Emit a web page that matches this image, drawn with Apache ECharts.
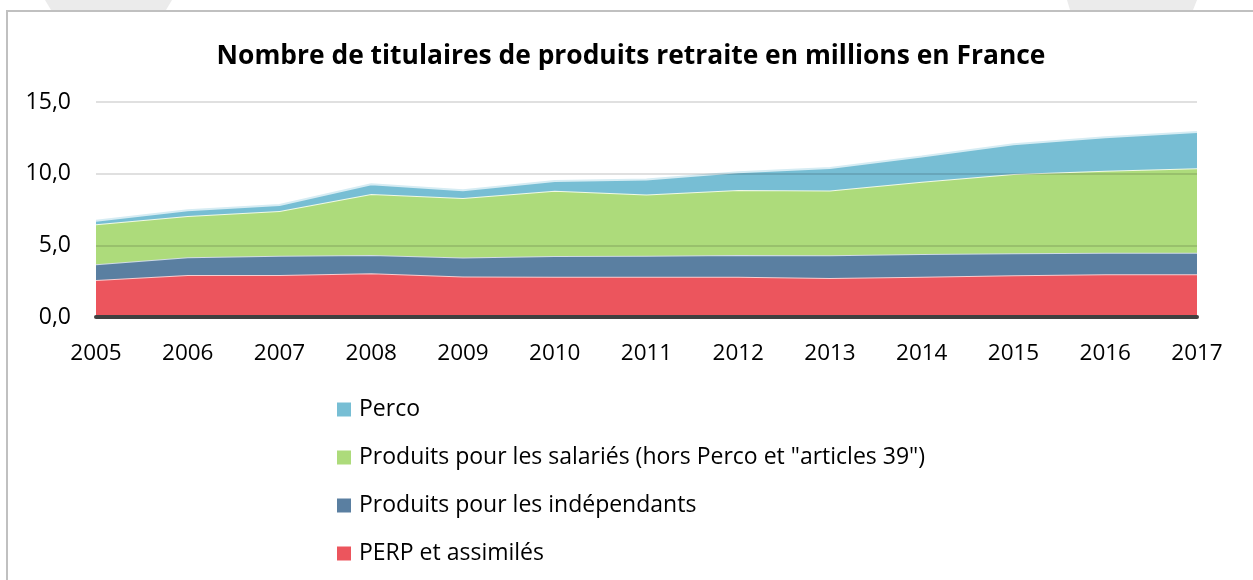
<!DOCTYPE html>
<html>
<head>
<meta charset="utf-8">
<script src="https://cdn.jsdelivr.net/npm/echarts@6/dist/echarts.min.js"></script>
<style>
html,body{margin:0;padding:0;background:#fff;}
#chart{width:1253px;height:580px;}
</style>
</head>
<body>
<div id="chart"></div>
<script>
const years = ['2005','2006','2007','2008','2009','2010','2011','2012','2013','2014','2015','2016','2017'];
const perp = [2.58, 2.93, 2.93, 3.05, 2.82, 2.81, 2.81, 2.81, 2.72, 2.81, 2.91, 2.98, 2.98];
const independants = [1.10, 1.24, 1.35, 1.28, 1.33, 1.45, 1.47, 1.52, 1.58, 1.59, 1.53, 1.51, 1.51];
const salaries = [2.79, 2.88, 3.12, 4.25, 4.15, 4.55, 4.27, 4.53, 4.53, 5.04, 5.53, 5.72, 5.89];
const perco = [0.25, 0.40, 0.42, 0.68, 0.55, 0.68, 1.05, 1.24, 1.57, 1.75, 2.08, 2.33, 2.53];
const yTicks = [0, 5, 10, 15];
const names = ['PERP et assimilés', 'Produits pour les indépendants', 'Produits pour les salariés (hors Perco et "articles 39")', 'Perco'];
const titleText = 'Nombre de titulaires de produits retraite en millions en France';

const fills = ['#EC555D', '#5A7FA1', '#ADDB7B', '#77BED4'];
const edges = ['#F7CDD0', '#D0DBE6', '#F0F9E6', '#D6ECF3'];
const seriesData = [perp, independants, salaries, perco];

const FONT = 'Open Sans';
const chart = echarts.init(document.getElementById('chart'), null, {renderer: 'canvas'});
chart.setOption({
  animation: false,
  backgroundColor: '#ffffff',
  title: {
    text: titleText,
    left: 626,
    textAlign: 'center',
    top: 38,
    textStyle: {fontFamily: FONT, fontWeight: 'bold', fontSize: 26.4, color: '#000'}
  },
  graphic: [
    {type: 'polygon', shape: {points: [[45,0],[172,0],[166,10],[51,10]]}, style: {fill: '#ebebeb'}, z: 0},
    {type: 'polygon', shape: {points: [[1067,0],[1197,0],[1193,10],[1070,10]]}, style: {fill: '#ebebeb'}, z: 0},
    {type: 'polyline', shape: {points: [[7,580],[7,11],[1253,11]]}, style: {stroke: '#c0c0c0', lineWidth: 2, fill: null}, z: 0}
  ],
  legend: {
    orient: 'vertical',
    left: 337,
    top: 398,
    padding: 0,
    icon: 'rect',
    itemWidth: 14,
    itemHeight: 14,
    itemGap: 25,
    data: [names[3], names[2], names[1], names[0]],
    textStyle: {fontFamily: FONT, fontSize: 23, color: '#000', padding: [0,0,0,3]},
    itemStyle: {borderWidth: 0}
  },
  grid: {left: 96, right: 56, top: 102, bottom: 263, containLabel: false},
  xAxis: {
    type: 'category',
    data: years,
    boundaryGap: false,
    z: 5,
    axisLine: {show: true, lineStyle: {color: '#404040', width: 4}},
    axisTick: {show: false},
    axisLabel: {fontFamily: FONT, fontSize: 22.5, color: '#000', margin: 25}
  },
  yAxis: {
    type: 'value',
    min: 0,
    max: 15,
    interval: 5,
    z: 4,
    axisLine: {show: false},
    axisTick: {show: false},
    splitLine: {lineStyle: {color: 'rgba(0,0,0,0.12)', width: 2}},
    axisLabel: {
      fontFamily: FONT, fontSize: 23, color: '#000', margin: 25,
      formatter: v => yTicks.includes(v) ? v.toFixed(1).replace('.', ',') : ''
    }
  },
  series: seriesData.map((d, i) => ({
    name: names[i],
    type: 'line',
    stack: 'total',
    data: d,
    showSymbol: false,
    symbol: 'none',
    color: fills[i],
    itemStyle: {color: fills[i]},
    lineStyle: {color: edges[i], width: 2},
    areaStyle: {color: fills[i], opacity: 1},
    z: 2 + i * 0.01
  }))
});
</script>
</body>
</html>
